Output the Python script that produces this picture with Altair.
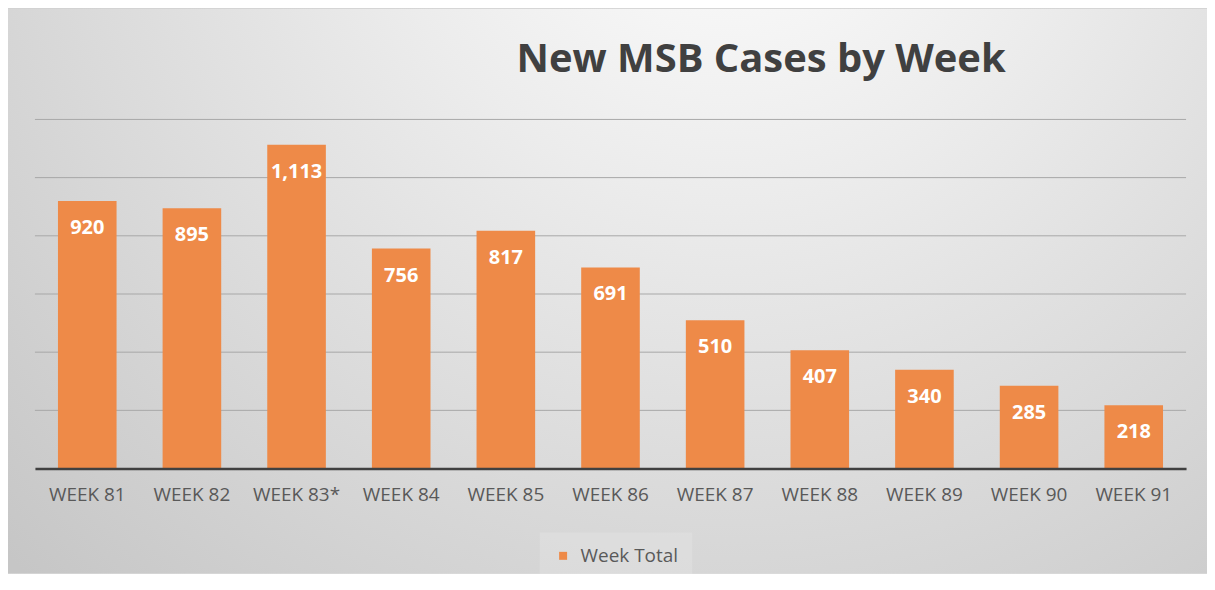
import altair as alt
import pandas as pd

weeks = ["WEEK 81", "WEEK 82", "WEEK 83*", "WEEK 84", "WEEK 85", "WEEK 86",
         "WEEK 87", "WEEK 88", "WEEK 89", "WEEK 90", "WEEK 91"]
totals = [920, 895, 1113, 756, 817, 691, 510, 407, 340, 285, 218]
series_name = "Week Total"
grid_values = [200, 400, 600, 800, 1000, 1200]

ORANGE = "#EE8A48"
W, H = 1154, 350
PAD = {"left": 27, "top": 111, "right": 21, "bottom": 105}

df = pd.DataFrame({"week": weeks, "value": totals, "series": [series_name] * len(weeks)})
grid_df = pd.DataFrame({"g": grid_values})
bg_df = pd.DataFrame({"bg": [0]})

x_enc = alt.X("week:N", sort=None, title=None,
              scale=alt.Scale(paddingInner=0.44),
              axis=alt.Axis(labelAngle=0, ticks=False, labelFont="Open Sans",
                            labelFontSize=19, labelColor="#595959", labelPadding=17,
                            domainColor="#404040", domainWidth=2.5, grid=False,
                            zindex=1))
y_scale = alt.Scale(domain=[0, 1200], nice=False)

background = alt.Chart(bg_df).mark_rect(
    color={"gradient": "radial", "x1": 0.6, "y1": 0.12, "r1": 0,
           "x2": 0.6, "y2": 0.12, "r2": 0.85,
           "stops": [{"offset": 0, "color": "#ffffff"},
                     {"offset": 0.35, "color": "#ececec"},
                     {"offset": 1, "color": "#c6c6c6"}]}
).encode(
    x=alt.value(-PAD["left"] + 0), x2=alt.value(W + PAD["right"]),
    y=alt.value(-PAD["top"]), y2=alt.value(H + PAD["bottom"])
)

grid = alt.Chart(grid_df).mark_rule(color="#a8a8a8", strokeWidth=1).encode(
    y=alt.Y("g:Q", scale=y_scale, axis=None),
    x=alt.value(0), x2=alt.value(W)
)

bars = alt.Chart(df).mark_bar().encode(
    x=x_enc,
    y=alt.Y("value:Q", scale=y_scale, axis=None),
    color=alt.Color("series:N",
                    scale=alt.Scale(domain=[series_name], range=[ORANGE]),
                    legend=alt.Legend(title=None, orient="none", legendX=506, legendY=414,
                                      symbolType="square", symbolSize=64,
                                      symbolStrokeWidth=0, labelFont="Open Sans",
                                      labelFontSize=19, labelColor="#595959",
                                      labelOffset=8, padding=14,
                                      fillColor="rgba(255,255,255,0.15)",
                                      zindex=1))
)

labels = alt.Chart(df).mark_text(
    dy=27, color="white", font="Open Sans", fontSize=20, fontWeight="bold",
    baseline="middle"
).encode(
    x=alt.X("week:N", sort=None),
    y=alt.Y("value:Q", scale=y_scale),
    text=alt.Text("value:Q", format=",")
)

chart = alt.layer(background, grid, bars, labels).properties(
    width=W, height=H,
    padding=PAD,
    autosize=alt.AutoSizeParams(type="none"),
    background="#d4d4d4",
    title=alt.TitleParams("New MSB Cases by Week", font="Open Sans", fontSize=40,
                          fontWeight="bold", color="#404040", anchor="middle",
                          frame="group", dx=151, dy=PAD["top"] + 38, offset=46,
                          baseline="alphabetic", zindex=1)
).configure_view(stroke=None)

chart.save("out.html", embed_options={"renderer": "svg", "actions": False})
